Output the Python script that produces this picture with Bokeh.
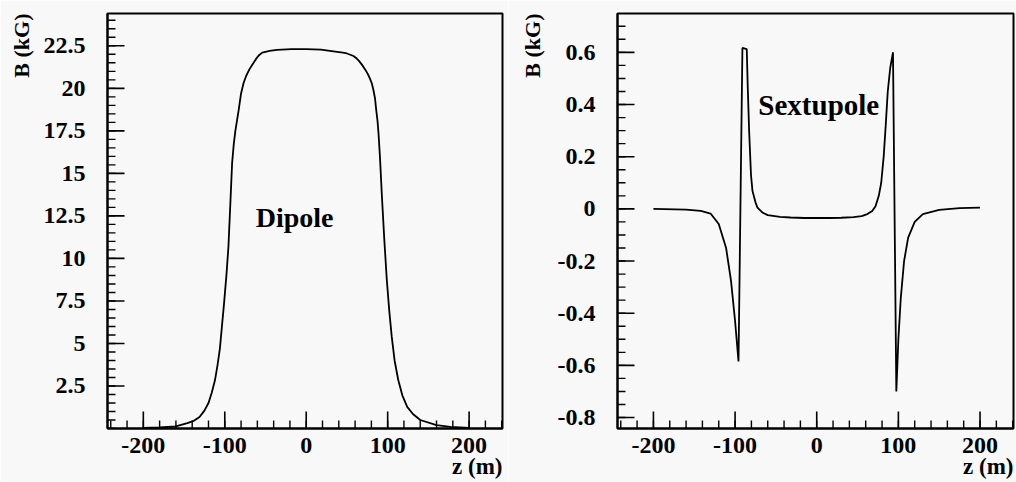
import math
from bokeh.plotting import figure
from bokeh.models import Range1d, FixedTicker, Title, Label, NumeralTickFormatter
from bokeh.layouts import row
from bokeh.embed import file_html
from bokeh.resources import INLINE

# ---- data ----
dipole_z = [-200, -180, -160, -146, -138, -131, -125, -120, -116, -112, -109, -106, -103.5,
            -101, -98, -95.5, -93, -91, -89, -87, -85, -83, -80, -77, -74, -70, -66, -62,
            -58, -54, -50, -45, -36, -18, 0, 18, 38, 45, 50, 58, 62, 65, 69, 72.5, 75.5, 78,
            80.5, 82.5, 84.5, 86, 87.5, 88.7, 90.5, 93, 96, 99, 102, 105, 108.5, 113, 118,
            124, 131, 140, 160, 177, 200]
dipole_b = [0.03, 0.06, 0.12, 0.32, 0.45, 0.68, 1.05, 1.5, 2.1, 2.85, 3.7, 4.7, 6.0,
            7.3, 9.0, 10.7, 13.4, 15.6, 16.7, 17.5, 18.1, 18.7, 19.7, 20.3, 20.7, 21.1,
            21.4, 21.7, 21.95, 22.1, 22.15, 22.2, 22.26, 22.3, 22.3, 22.28, 22.15, 22.1,
            22.05, 21.9, 21.75, 21.6, 21.35, 21.1, 20.85, 20.6, 20.3, 19.9, 19.4, 18.7,
            18.1, 17.4, 16.0, 13.6, 11.0, 8.7, 6.9, 5.4, 4.0, 2.85, 1.95, 1.27, 0.85, 0.5,
            0.2, 0.1, 0.04]

sext_z = [-200, -160, -142, -130, -120, -111, -105, -100, -95.8, -91, -85.7, -84.5, -82.8,
          -80.5, -78.7, -75, -72.6, -66, -60, -45, -32, -15, 0, 15, 30, 45, 55, 62, 68, 72,
          76, 79, 82, 84.5, 87, 90, 93.4, 97.5, 100, 103, 107, 112, 120, 130, 150, 175, 200]
sext_b = [0.0, -0.003, -0.008, -0.018, -0.058, -0.15, -0.275, -0.43, -0.585, 0.617, 0.612,
          0.47, 0.30, 0.13, 0.069, 0.025, 0.005, -0.015, -0.024, -0.031, -0.033, -0.035,
          -0.035, -0.035, -0.034, -0.032, -0.028, -0.02, -0.008, 0.01, 0.05, 0.1, 0.2, 0.32,
          0.45, 0.54, 0.60, -0.70, -0.50, -0.34, -0.2, -0.11, -0.05, -0.02, -0.004, 0.003,
          0.005]

x_ticks = [-200, -100, 0, 100, 200]
x_tick_labels = ["-200", "-100", "0", "100", "200"]
x_minor = list(range(-240, 241, 20))

dipole_ticks = [2.5, 5, 7.5, 10, 12.5, 15, 17.5, 20, 22.5]
dipole_tick_labels = ["2.5", "5", "7.5", "10", "12.5", "15", "17.5", "20", "22.5"]
dipole_minor = [i * 0.5 for i in range(0, 49)]

sext_ticks = [-0.8, -0.6, -0.4, -0.2, 0, 0.2, 0.4, 0.6]
sext_tick_labels = ["-0.8", "-0.6", "-0.4", "-0.2", "0", "0.2", "0.4", "0.6"]
sext_minor = [round(-0.85 + 0.05 * i, 2) for i in range(0, 33)]

X_RANGE = (-244, 241)
DIPOLE_Y = (0, 24.4)
SEXT_Y = (-0.842, 0.749)

FONT = "Liberation Serif"
BG = "#f8f8f8"
FIG_H = 482
FIG_W = 508
BORDER_TOP = 13
BORDER_BOTTOM = 54
MAJOR_LEN = 17
MINOR_LEN = 8


def make_fig(yr, yticks, ylabels, yminor, left_border, right_border, ytitle_standoff):
    p = figure(width=FIG_W, height=FIG_H, x_range=Range1d(*X_RANGE), y_range=Range1d(*yr),
               output_backend="svg", toolbar_location=None,
               min_border_left=left_border, min_border_right=right_border,
               min_border_top=BORDER_TOP, min_border_bottom=BORDER_BOTTOM)
    p.background_fill_color = BG
    p.border_fill_color = BG
    p.grid.visible = False
    p.outline_line_color = "black"
    p.outline_line_width = 2

    p.xaxis.ticker = FixedTicker(ticks=x_ticks, minor_ticks=x_minor)
    p.xaxis.major_label_overrides = dict(zip(x_ticks, x_tick_labels))
    p.xaxis.formatter = NumeralTickFormatter(format="0.[0]")
    p.yaxis.ticker = FixedTicker(ticks=yticks, minor_ticks=yminor)
    p.yaxis.major_label_overrides = dict(zip(yticks, ylabels))
    p.yaxis.formatter = NumeralTickFormatter(format="0.[0]")

    for ax in (p.xaxis, p.yaxis):
        ax.axis_line_color = "black"
        ax.axis_line_width = 2
        ax.major_tick_line_color = None
        ax.minor_tick_line_color = None
        ax.major_tick_out = 0
        ax.major_tick_in = 0
        ax.minor_tick_out = 0
        ax.minor_tick_in = 0
        ax.major_label_text_font = FONT
        ax.major_label_text_font_size = "24px"
        ax.major_label_text_font_style = "bold"
        ax.major_label_text_color = "black"
    p.xaxis.major_label_standoff = 9
    p.yaxis.major_label_standoff = 22

    # inward tick marks drawn at the tick values (half of each dash is clipped by the frame)
    p.scatter(x_ticks, [yr[0]] * len(x_ticks), marker="dash", angle=math.pi / 2,
              size=2 * MAJOR_LEN, line_color="black", line_width=1.6)
    p.scatter(x_minor, [yr[0]] * len(x_minor), marker="dash", angle=math.pi / 2,
              size=2 * MINOR_LEN, line_color="black", line_width=1.4)
    p.scatter([X_RANGE[0]] * len(yticks), yticks, marker="dash",
              size=2 * MAJOR_LEN, line_color="black", line_width=1.6)
    p.scatter([X_RANGE[0]] * len(yminor), yminor, marker="dash",
              size=2 * MINOR_LEN, line_color="black", line_width=1.4)

    ty = Title(text="B (kG)", align="right", text_font=FONT, text_font_size="22px",
               text_font_style="bold", text_color="black", standoff=ytitle_standoff)
    p.add_layout(ty, "left")

    tx = Title(text="z (m)", align="right", vertical_align="top", text_font=FONT,
               text_font_size="23px", text_font_style="bold", text_color="black",
               standoff=-4)
    p.add_layout(tx, "below")
    return p


p1 = make_fig(DIPOLE_Y, dipole_ticks, dipole_tick_labels, dipole_minor, 107, 6, 13)
p1.line(dipole_z, dipole_b, line_color="black", line_width=1.8)
p1.add_layout(Label(x=-62, y=12.38, text="Dipole", text_align="left",
                    text_baseline="middle", text_font=FONT, text_font_size="28px",
                    text_font_style="bold", text_color="black"))

p2 = make_fig(SEXT_Y, sext_ticks, sext_tick_labels, sext_minor, 109, 3, 19)
p2.line(sext_z, sext_b, line_color="black", line_width=1.8)
p2.add_layout(Label(x=-71.5, y=0.398, text="Sextupole", text_align="left",
                    text_baseline="middle", text_font=FONT, text_font_size="29px",
                    text_font_style="bold", text_color="black"))

layout = row(p1, p2)
open("out.html", "w").write(file_html(layout, INLINE))
